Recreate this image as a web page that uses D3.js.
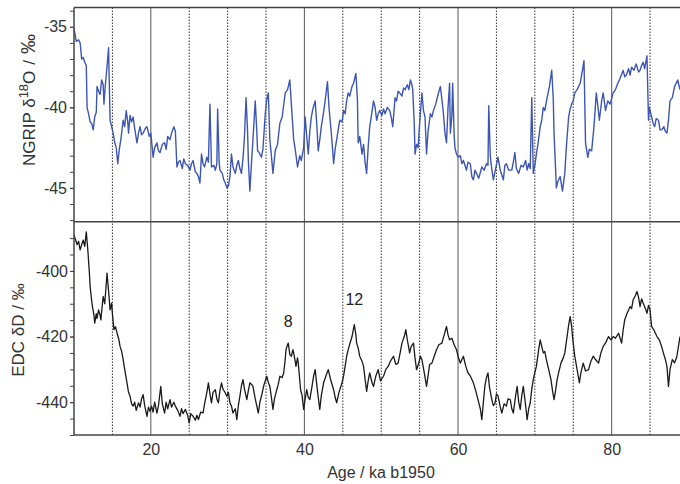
<!DOCTYPE html>
<html>
<head>
<meta charset="utf-8">
<title>NGRIP and EDC isotope records</title>
<style>
  body { margin: 0; background: #fff; }
  svg { display: block; font-family: "Liberation Sans", Arial, sans-serif; }
  .tick text { fill: #333; font-size: 16px; }
  .tick line { stroke: #444; }
</style>
</head>
<body>
<div id="chart"></div>
<script src="https://d3js.org/d3.v7.min.js"></script>
<script>
// ---- data ----
const ageTicks = [20, 40, 60, 80];
const solidLines = [20, 40, 60, 80];
const dashedLines = [15, 25, 30, 35, 45, 50, 55, 65, 70, 75, 85];
const ngripTicks = [-35, -40, -45];
const ngripMinor = [-34, -35, -36, -37, -38, -39, -40, -41, -42, -43, -44, -45, -46, -47];
const edcTicks = [-400, -420, -440];
const edcMinor = [-390, -395, -400, -405, -410, -415, -420, -425, -430, -435, -440, -445, -450];
const notes = [{ label: "8", age: 37.9, value: -417 }, { label: "12", age: 46.5, value: -410.5 }];

// NGRIP d18O [age ka, permil]
const ngrip = [
  [10.0,-35.1],[10.3,-35.9],[10.6,-35.8],[10.8,-36.0],[11.0,-37.0],[11.2,-36.9],[11.4,-37.2],[11.6,-37.4],
  [11.7,-40.0],[11.9,-40.4],[12.1,-40.9],[12.3,-41.0],[12.5,-41.4],[12.7,-40.6],[12.9,-40.3],[13.0,-38.7],
  [13.2,-39.0],[13.4,-39.2],[13.6,-38.3],[13.8,-38.6],[13.9,-39.8],[14.1,-38.5],[14.3,-37.5],[14.5,-36.3],
  [14.7,-40.8],[14.9,-41.2],[15.1,-41.6],[15.3,-42.2],[15.5,-42.5],[15.7,-43.5],[15.9,-42.6],[16.1,-42.0],
  [16.4,-40.8],[16.6,-41.2],[16.8,-40.2],[17.0,-40.9],[17.1,-41.6],[17.3,-40.5],[17.5,-40.9],[17.7,-40.6],
  [17.9,-41.3],[18.2,-42.2],[18.4,-41.6],[18.6,-41.2],[18.8,-41.7],[19.0,-41.6],[19.3,-41.3],[19.5,-41.2],
  [19.8,-41.8],[20.0,-41.6],[20.3,-43.1],[20.5,-42.5],[20.8,-42.2],[21.0,-42.7],[21.2,-42.8],[21.5,-42.3],
  [21.8,-42.2],[22.0,-42.6],[22.2,-41.8],[22.5,-42.0],[22.7,-41.6],[23.0,-41.2],[23.2,-41.5],[23.4,-43.7],
  [23.6,-43.4],[23.8,-43.3],[24.1,-43.8],[24.3,-43.2],[24.5,-43.5],[24.8,-43.6],[25.1,-43.9],[25.3,-43.5],
  [25.5,-43.3],[25.8,-44.0],[26.0,-44.1],[26.2,-44.3],[26.4,-44.7],[26.6,-42.9],[26.8,-43.5],[27.0,-43.7],
  [27.3,-43.1],[27.5,-43.4],[27.7,-39.8],[27.9,-43.7],[28.2,-43.6],[28.4,-43.9],[28.6,-43.5],[28.7,-40.1],
  [28.9,-43.4],[29.0,-43.9],[29.3,-44.1],[29.5,-44.5],[29.7,-44.7],[29.9,-45.0],[30.1,-44.9],[30.3,-44.3],
  [30.5,-42.9],[30.7,-43.7],[31.0,-44.1],[31.2,-43.6],[31.4,-43.3],[31.6,-43.8],[31.8,-44.1],[32.0,-43.2],
  [32.2,-41.8],[32.4,-39.4],[32.6,-41.5],[32.7,-43.3],[32.9,-45.2],[33.1,-43.5],[33.3,-42.0],[33.6,-39.6],
  [33.8,-41.5],[33.9,-42.7],[34.1,-42.8],[34.4,-43.1],[34.6,-42.6],[34.9,-40.4],[35.1,-39.5],[35.3,-39.1],
  [35.5,-42.0],[35.7,-43.0],[35.9,-44.1],[36.2,-42.7],[36.5,-42.3],[36.8,-41.0],[37.1,-40.6],[37.5,-39.1],
  [37.8,-38.9],[38.1,-38.3],[38.3,-39.8],[38.6,-42.0],[38.8,-42.6],[39.1,-43.7],[39.4,-43.0],[39.6,-43.3],
  [39.9,-42.5],[40.1,-40.6],[40.3,-41.8],[40.5,-42.9],[40.7,-41.5],[40.9,-40.6],[41.1,-40.1],[41.4,-39.6],
  [41.6,-41.0],[41.8,-42.7],[42.0,-42.0],[42.2,-41.2],[42.5,-40.3],[42.8,-39.2],[43.0,-38.4],[43.2,-40.0],
  [43.5,-41.6],[43.7,-42.8],[43.8,-43.5],[44.0,-42.6],[44.2,-42.0],[44.4,-41.4],[44.6,-40.8],[44.9,-40.9],
  [45.1,-40.2],[45.3,-40.4],[45.5,-39.6],[45.7,-39.1],[45.9,-39.3],[46.2,-38.7],[46.4,-38.5],[46.7,-37.9],
  [46.9,-39.5],[47.0,-42.2],[47.2,-41.8],[47.5,-42.9],[47.7,-42.3],[47.9,-43.4],[48.1,-44.1],[48.3,-42.5],
  [48.5,-41.2],[48.7,-40.6],[49.0,-39.6],[49.2,-40.0],[49.4,-40.8],[49.6,-40.4],[49.8,-40.2],[50.1,-40.5],
  [50.3,-40.1],[50.5,-40.4],[50.8,-40.0],[51.1,-40.2],[51.3,-40.6],[51.5,-41.2],[51.8,-39.4],[52.0,-39.6],
  [52.2,-39.0],[52.4,-39.1],[52.7,-39.3],[52.9,-38.8],[53.1,-38.9],[53.4,-38.6],[53.6,-38.9],[53.8,-38.3],
  [54.0,-38.6],[54.1,-38.9],[54.3,-41.0],[54.4,-42.9],[54.6,-42.3],[54.8,-42.5],[55.0,-41.0],[55.3,-39.1],
  [55.5,-40.2],[55.7,-40.6],[55.9,-42.9],[56.1,-41.5],[56.4,-40.4],[56.6,-40.6],[56.8,-40.2],[57.1,-39.8],
  [57.4,-39.2],[57.7,-38.7],[57.9,-39.5],[58.1,-40.4],[58.3,-41.6],[58.5,-42.2],[58.7,-40.0],[58.9,-38.5],
  [59.0,-41.6],[59.2,-40.5],[59.3,-38.5],[59.5,-41.8],[59.6,-42.5],[59.8,-42.9],[60.0,-43.1],[60.3,-43.0],
  [60.5,-43.5],[60.7,-43.3],[60.9,-43.6],[61.1,-43.9],[61.3,-43.4],[61.6,-43.5],[61.8,-44.3],[62.0,-44.5],
  [62.2,-43.9],[62.4,-44.1],[62.7,-44.4],[63.1,-43.7],[63.4,-43.9],[63.7,-43.5],[63.9,-43.6],[64.0,-39.9],
  [64.2,-43.0],[64.3,-43.5],[64.6,-44.5],[64.9,-43.8],[65.2,-43.1],[65.5,-43.9],[65.7,-44.2],[65.9,-44.5],
  [66.1,-43.6],[66.3,-43.5],[66.6,-43.9],[67.0,-43.9],[67.2,-43.4],[67.4,-42.8],[67.6,-43.8],[67.9,-44.1],
  [68.2,-43.6],[68.5,-43.7],[68.8,-43.3],[69.0,-43.9],[69.2,-43.5],[69.4,-43.8],[69.6,-39.4],[69.8,-44.1],
  [70.0,-43.6],[70.2,-42.9],[70.4,-42.3],[70.7,-41.2],[70.9,-40.8],[71.1,-40.0],[71.3,-40.2],[71.6,-39.4],
  [71.9,-38.7],[72.2,-37.7],[72.4,-39.5],[72.5,-41.6],[72.7,-43.8],[72.8,-45.0],[73.0,-44.6],[73.3,-44.3],
  [73.6,-45.2],[73.9,-44.1],[74.1,-42.5],[74.4,-40.6],[74.6,-40.1],[74.8,-39.8],[75.0,-39.6],[75.2,-39.1],
  [75.5,-38.9],[75.9,-38.5],[76.2,-37.7],[76.4,-37.1],[76.6,-42.2],[76.9,-43.1],[77.1,-42.6],[77.4,-42.7],
  [77.7,-41.2],[78.0,-39.1],[78.2,-39.9],[78.4,-40.8],[78.7,-39.6],[78.9,-39.1],[79.2,-40.2],[79.5,-39.6],
  [79.8,-39.8],[80.2,-39.1],[80.5,-38.9],[80.8,-38.5],[81.1,-38.2],[81.5,-37.7],[81.7,-38.1],[81.9,-38.0],
  [82.2,-37.6],[82.4,-38.0],[82.6,-37.5],[82.9,-37.7],[83.2,-37.3],[83.5,-37.8],[83.7,-37.7],[83.9,-37.4],
  [84.1,-37.2],[84.3,-37.6],[84.6,-36.8],[84.8,-40.8],[84.9,-40.0],[85.2,-40.6],[85.4,-41.0],[85.6,-41.2],
  [85.8,-40.7],[86.1,-40.8],[86.3,-41.4],[86.5,-41.4],[86.8,-41.2],[87.0,-41.5],[87.2,-41.6],[87.4,-40.8],
  [87.6,-39.6],[87.9,-39.4],[88.2,-38.7],[88.4,-38.5],[88.6,-38.3],[88.9,-38.9]
];

// EDC dD [age ka, permil]
const edc = [
  [10.0,-389.1],[10.2,-390.5],[10.4,-392.0],[10.6,-391.0],[10.8,-393.6],[11.0,-392.0],[11.2,-390.6],[11.4,-392.5],
  [11.6,-388.1],[11.8,-393.6],[12.0,-400.5],[12.1,-404.8],[12.3,-409.0],[12.4,-410.9],[12.6,-413.5],[12.7,-415.9],
  [12.9,-413.0],[13.0,-414.5],[13.2,-411.9],[13.4,-413.5],[13.5,-414.9],[13.7,-410.0],[13.8,-407.8],[14.0,-410.0],
  [14.2,-404.0],[14.3,-400.7],[14.5,-406.0],[14.7,-411.9],[14.9,-409.8],[15.0,-413.0],[15.2,-417.9],[15.4,-417.0],
  [15.6,-418.9],[15.8,-420.5],[16.0,-423.0],[16.2,-424.5],[16.4,-427.0],[16.6,-430.0],[16.9,-434.1],[17.1,-437.0],
  [17.3,-438.2],[17.5,-440.5],[17.7,-441.2],[17.9,-440.0],[18.1,-442.5],[18.4,-440.2],[18.6,-441.5],[18.8,-439.0],
  [19.0,-437.7],[19.2,-441.0],[19.5,-444.3],[19.7,-441.5],[19.9,-442.8],[20.1,-441.2],[20.3,-443.0],[20.5,-440.0],
  [20.8,-443.3],[21.0,-441.0],[21.3,-435.2],[21.5,-440.5],[21.8,-443.3],[22.0,-440.0],[22.2,-442.0],[22.5,-439.2],
  [22.7,-441.5],[23.0,-440.0],[23.2,-441.2],[23.5,-442.5],[23.8,-444.3],[24.0,-442.0],[24.2,-443.5],[24.5,-442.2],
  [24.8,-444.0],[25.0,-446.3],[25.2,-443.5],[25.5,-444.3],[25.8,-445.5],[26.0,-444.0],[26.2,-445.3],[26.5,-443.0],
  [26.8,-443.3],[27.0,-440.5],[27.3,-437.0],[27.5,-434.1],[27.7,-437.5],[27.9,-440.2],[28.1,-437.0],[28.4,-436.2],
  [28.6,-439.0],[28.8,-440.2],[29.0,-436.5],[29.2,-434.1],[29.4,-436.0],[29.7,-437.2],[29.9,-438.2],[30.1,-437.0],
  [30.3,-440.2],[30.5,-441.2],[30.7,-443.3],[31.0,-442.0],[31.2,-445.3],[31.4,-441.0],[31.6,-438.2],[31.8,-435.0],
  [32.0,-433.1],[32.2,-436.0],[32.5,-439.2],[32.7,-436.5],[32.9,-434.1],[33.1,-434.5],[33.3,-435.2],[33.6,-439.0],
  [34.0,-443.3],[34.2,-440.0],[34.4,-438.2],[34.7,-435.0],[35.1,-432.1],[35.3,-434.0],[35.5,-435.2],[35.7,-438.5],
  [35.9,-442.2],[36.1,-439.0],[36.4,-436.2],[36.6,-434.5],[36.8,-432.1],[37.1,-432.5],[37.3,-431.1],[37.5,-427.0],
  [37.6,-424.0],[37.8,-422.5],[37.9,-422.0],[38.1,-425.5],[38.3,-426.0],[38.5,-424.0],[38.6,-425.0],[38.8,-427.5],
  [38.9,-429.1],[39.1,-426.5],[39.2,-428.1],[39.5,-436.2],[39.7,-438.0],[39.9,-442.2],[40.1,-439.0],[40.3,-436.2],
  [40.5,-438.5],[40.7,-439.2],[41.0,-435.0],[41.2,-432.0],[41.4,-430.1],[41.6,-434.5],[41.8,-438.5],[42.0,-442.2],
  [42.2,-438.0],[42.5,-434.1],[42.8,-432.0],[43.1,-430.1],[43.4,-433.0],[43.8,-436.2],[44.0,-438.5],[44.2,-440.2],
  [44.5,-437.0],[44.9,-434.1],[45.1,-432.0],[45.3,-429.1],[45.5,-426.0],[45.7,-424.0],[46.0,-421.5],[46.2,-420.0],
  [46.4,-417.5],[46.5,-416.4],[46.7,-419.5],[46.8,-422.0],[47.0,-423.5],[47.2,-426.0],[47.5,-427.5],[47.7,-429.1],
  [47.9,-433.0],[48.1,-436.7],[48.3,-433.5],[48.5,-431.1],[48.8,-434.0],[49.0,-435.2],[49.3,-432.0],[49.6,-430.1],
  [49.9,-433.5],[50.3,-432.1],[50.6,-430.0],[50.9,-429.1],[51.2,-427.5],[51.6,-426.0],[51.9,-428.5],[52.2,-428.1],
  [52.5,-424.5],[52.7,-422.0],[53.0,-420.0],[53.2,-417.9],[53.4,-421.0],[53.7,-425.0],[53.9,-423.0],[54.2,-422.0],
  [54.4,-426.5],[54.6,-430.1],[54.9,-428.0],[55.1,-426.0],[55.3,-427.0],[55.6,-431.0],[55.9,-435.2],[56.1,-432.0],
  [56.3,-428.5],[56.6,-428.1],[56.9,-426.0],[57.2,-424.0],[57.5,-422.5],[57.9,-422.0],[58.2,-419.5],[58.5,-416.9],
  [58.7,-419.5],[58.9,-421.0],[59.2,-420.5],[59.5,-422.5],[59.8,-424.0],[60.0,-426.0],[60.3,-428.1],[60.5,-427.0],
  [60.7,-426.0],[61.0,-429.0],[61.3,-431.1],[61.6,-432.0],[62.0,-434.1],[62.3,-436.5],[62.6,-439.2],[62.9,-442.0],
  [63.1,-445.3],[63.3,-440.0],[63.5,-435.0],[63.7,-432.5],[63.9,-431.1],[64.1,-435.5],[64.4,-439.2],[64.6,-441.0],
  [64.8,-440.5],[65.0,-437.5],[65.2,-438.0],[65.5,-441.5],[65.7,-443.3],[66.0,-440.5],[66.3,-441.2],[66.5,-439.0],
  [66.8,-439.2],[67.0,-442.0],[67.2,-443.3],[67.5,-438.0],[67.7,-435.2],[67.9,-440.0],[68.1,-442.2],[68.3,-438.0],
  [68.5,-435.2],[68.8,-441.0],[69.0,-445.3],[69.2,-442.0],[69.4,-440.2],[69.6,-436.0],[69.8,-433.1],[70.0,-431.0],
  [70.2,-429.1],[70.5,-424.0],[70.7,-421.0],[70.9,-423.0],[71.1,-425.0],[71.3,-424.5],[71.5,-427.0],[71.8,-430.0],
  [72.1,-433.1],[72.3,-436.5],[72.5,-439.2],[72.7,-436.5],[72.9,-433.1],[73.1,-431.0],[73.4,-428.1],[73.7,-426.5],
  [73.9,-425.0],[74.2,-420.0],[74.4,-416.5],[74.6,-413.9],[74.8,-417.0],[74.9,-420.0],[75.2,-426.0],[75.5,-430.0],
  [75.8,-434.1],[76.0,-431.0],[76.3,-428.1],[76.6,-430.5],[77.0,-430.1],[77.3,-427.5],[77.6,-426.0],[77.9,-427.0],
  [78.3,-428.1],[78.6,-425.0],[78.9,-423.0],[79.2,-422.0],[79.6,-420.0],[79.9,-421.0],[80.2,-420.0],[80.5,-420.5],
  [80.9,-419.0],[81.1,-420.5],[81.3,-422.0],[81.5,-418.0],[81.7,-414.9],[82.0,-413.0],[82.4,-410.9],[82.6,-411.5],
  [82.8,-408.8],[83.1,-407.5],[83.3,-406.3],[83.5,-408.0],[83.7,-410.9],[83.9,-408.5],[84.1,-409.8],[84.4,-411.5],
  [84.6,-412.9],[84.8,-410.5],[85.0,-411.9],[85.2,-416.9],[85.5,-418.0],[85.9,-420.0],[86.2,-421.0],[86.5,-423.0],
  [86.8,-425.5],[87.0,-427.0],[87.2,-429.1],[87.4,-435.2],[87.6,-430.0],[87.9,-427.0],[88.2,-428.0],[88.5,-426.0],
  [88.7,-423.0],[88.9,-420.0]
];

// ---- layout ----
const width = 680, height = 484;
const plotLeft = 74, plotRight = 680, plotTop = 7.5, plotMid = 221.7, plotBottom = 435;

const svg = d3.select("#chart").append("svg")
    .attr("width", width)
    .attr("height", height);

const x = d3.scaleLinear().domain([10, 88.9]).range([plotLeft, plotRight]);
const yTop = d3.scaleLinear().domain([-33.8, -47.1]).range([plotTop, plotMid]);
const yBot = d3.scaleLinear().domain([-385, -450]).range([plotMid, plotBottom]);

// clip each panel
const defs = svg.append("defs");
defs.append("clipPath").attr("id", "clipTop")
  .append("rect").attr("x", plotLeft).attr("y", plotTop)
    .attr("width", plotRight - plotLeft).attr("height", plotMid - plotTop);
defs.append("clipPath").attr("id", "clipBot")
  .append("rect").attr("x", plotLeft).attr("y", plotMid)
    .attr("width", plotRight - plotLeft).attr("height", plotBottom - plotMid);

// vertical reference lines
svg.append("g").selectAll("line")
  .data(solidLines)
  .join("line")
    .attr("x1", d => x(d)).attr("x2", d => x(d))
    .attr("y1", plotTop).attr("y2", plotBottom)
    .attr("stroke", "#666")
    .attr("stroke-width", 1.1);

svg.append("g").selectAll("line")
  .data(dashedLines)
  .join("line")
    .attr("x1", d => x(d)).attr("x2", d => x(d))
    .attr("y1", plotTop).attr("y2", plotBottom)
    .attr("stroke", "#333")
    .attr("stroke-width", 1)
    .attr("stroke-dasharray", "1.5,1.5");

// series
const lineTop = d3.line().x(d => x(d[0])).y(d => yTop(d[1]));
const lineBot = d3.line().x(d => x(d[0])).y(d => yBot(d[1]));

svg.append("path")
    .datum(ngrip)
    .attr("clip-path", "url(#clipTop)")
    .attr("fill", "none")
    .attr("stroke", "#3d56b4")
    .attr("stroke-width", 1.4)
    .attr("stroke-linejoin", "round")
    .attr("d", lineTop);

svg.append("path")
    .datum(edc)
    .attr("clip-path", "url(#clipBot)")
    .attr("fill", "none")
    .attr("stroke", "#1a1a1a")
    .attr("stroke-width", 1.3)
    .attr("stroke-linejoin", "round")
    .attr("d", lineBot);

// frame
const frame = svg.append("g").attr("stroke", "#444").attr("stroke-width", 1.5);
[plotTop, plotMid, plotBottom].forEach(yy => {
  frame.append("line").attr("x1", plotLeft).attr("x2", plotRight).attr("y1", yy).attr("y2", yy);
});
frame.append("line").attr("x1", plotLeft).attr("x2", plotLeft).attr("y1", plotTop).attr("y2", plotBottom);

// y axes
svg.append("g")
    .attr("transform", `translate(${plotLeft},0)`)
    .call(d3.axisLeft(yTop).tickValues(ngripMinor).tickSize(4).tickFormat(""))
    .call(g => g.select(".domain").remove());
svg.append("g")
    .attr("transform", `translate(${plotLeft},0)`)
    .call(d3.axisLeft(yTop).tickValues(ngripTicks).tickSize(4).tickPadding(3).tickFormat(d => String(d)))
    .call(g => g.select(".domain").remove());

svg.append("g")
    .attr("transform", `translate(${plotLeft},0)`)
    .call(d3.axisLeft(yBot).tickValues(edcMinor).tickSize(4).tickFormat(""))
    .call(g => g.select(".domain").remove());
svg.append("g")
    .attr("transform", `translate(${plotLeft},0)`)
    .call(d3.axisLeft(yBot).tickValues(edcTicks).tickSize(4).tickPadding(2).tickFormat(d => String(d)))
    .call(g => g.select(".domain").remove());

// x axis
svg.append("g")
    .attr("transform", `translate(0,${plotBottom})`)
    .call(d3.axisBottom(x).tickValues(ageTicks).tickSize(0).tickPadding(9))
    .call(g => g.select(".domain").remove());

// axis titles
svg.append("text")
    .attr("transform", "translate(35,100) rotate(-90)")
    .attr("text-anchor", "middle")
    .attr("font-size", 17)
    .attr("fill", "#333")
    .call(t => {
      t.append("tspan").text("NGRIP \u03b4");
      t.append("tspan").attr("dy", -7).attr("font-size", 13).text("18");
      t.append("tspan").attr("dy", 7).text("O");
      t.append("tspan").attr("dx", 6).text("/");
      t.append("tspan").attr("dx", 6).attr("font-size", 20).text("\u2030");
    });

svg.append("text")
    .attr("transform", "translate(24,330) rotate(-90)")
    .attr("text-anchor", "middle")
    .attr("font-size", 17)
    .attr("fill", "#333")
    .text("EDC \u03b4D / \u2030");

svg.append("text")
    .attr("x", 381)
    .attr("y", 478)
    .attr("text-anchor", "middle")
    .attr("font-size", 16)
    .attr("fill", "#333")
    .text("Age / ka b1950");

// event numbers
svg.append("g").selectAll("text")
  .data(notes)
  .join("text")
    .attr("x", d => x(d.age))
    .attr("y", d => yBot(d.value))
    .attr("text-anchor", "middle")
    .attr("font-size", 16)
    .attr("fill", "#222")
    .text(d => d.label);
</script>
</body>
</html>
